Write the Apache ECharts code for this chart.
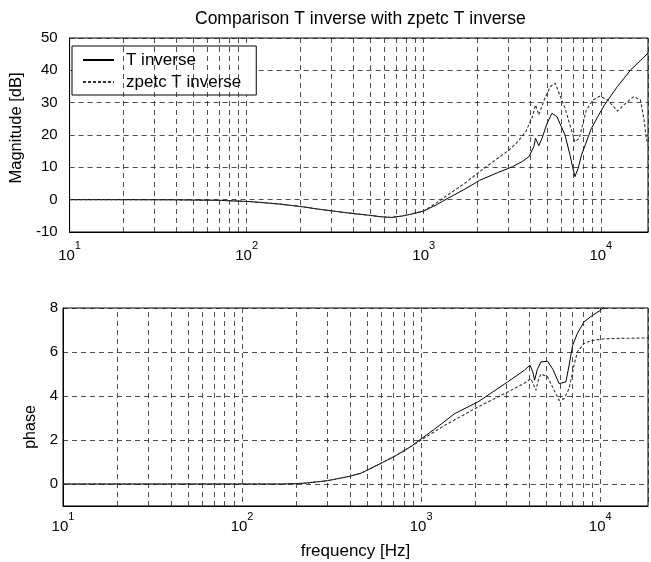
<!DOCTYPE html>
<html>
<head>
<meta charset="utf-8">
<script src="https://cdn.jsdelivr.net/npm/echarts@6/dist/echarts.min.js"></script>
<style>
  html, body { margin: 0; padding: 0; background: #fff; }
  #chart { width: 651px; height: 562px; }
</style>
</head>
<body>
<div id="chart"></div>
<script>
// Frequency response of the inverse closed loop and its ZPETC approximation.

// Magnitude [dB] of T inverse
const magTFreq = [10, 20, 40, 70, 105, 150, 207, 260, 316, 400, 488, 577, 656, 750, 847, 1000,
  1180, 1355, 1700, 2073, 2600, 3177, 3600, 3929, 4188, 4280, 4467, 4660, 4970, 5297, 5650,
  6283, 6700, 7140, 7450, 7780, 8840, 9620, 10490, 12420, 14730, 18490];
const magT = [0, 0, -0.05, -0.2, -0.6, -1.3, -2.2, -3.0, -3.6, -4.3, -4.8, -5.3, -5.5, -5.1, -4.5, -3.5,
  -1.6, 0.3, 3.2, 6.0, 8.3, 10.2, 11.8, 13.3, 16.4, 19.0, 16.7, 19.0, 23.6, 26.7, 25.7,
  20.0, 13.8, 7.1, 9.7, 13.8, 22.0, 25.7, 29.3, 35.0, 40.1, 45.3];

// Magnitude [dB] of zpetc T inverse
const magZFreq = [10, 20, 40, 70, 105, 150, 207, 260, 316, 400, 488, 577, 656, 750, 847, 1000,
  1180, 1413, 1700, 2073, 2500, 3042, 3400, 3767, 4100, 4280, 4467, 4800, 5190, 5530, 5900,
  6283, 6700, 7140, 7560, 8280, 9030, 9840, 10940, 12420, 13800, 15380, 16750, 17490, 18090, 18490];
const magZ = [0, 0, -0.05, -0.2, -0.6, -1.3, -2.2, -3.0, -3.6, -4.3, -4.8, -5.3, -5.5, -5.1, -4.5, -3.5,
  -1.0, 2.0, 5.0, 8.7, 12.0, 15.4, 18.0, 21.0, 25.5, 29.3, 26.2, 31.0, 35.0, 36.0, 32.0,
  28.3, 23.1, 17.9, 19.0, 27.7, 30.8, 32.0, 30.8, 27.4, 29.8, 31.9, 30.8, 25.2, 19.0, 17.0];

// Phase of T inverse
const phaseTFreq = [10, 100, 170, 220, 300, 400, 464, 600, 726, 883, 1000,
  1190, 1540, 2073, 3042, 3767, 4055, 4200, 4300, 4450, 4660, 5080, 5450, 5890, 6430,
  6700, 7010, 7450, 8110, 9000, 10040, 11000, 12000];
const phaseT = [0, 0, 0, 0.03, 0.15, 0.35, 0.5, 0.95, 1.3, 1.72, 2.05,
  2.5, 3.2, 3.73, 4.64, 5.17, 5.4, 5.1, 4.72, 5.2, 5.55, 5.58, 5.2, 4.56, 4.64,
  5.4, 6.3, 6.84, 7.37, 7.65, 7.9, 8.2, 8.5];

// Phase of zpetc T inverse
const phaseZFreq = [10, 100, 170, 220, 300, 400, 464, 600, 726, 883, 1000,
  1355, 2073, 3177, 3800, 4100, 4250, 4380, 4500, 4660, 5080, 5500, 5890, 6283,
  6700, 7140, 7450, 8110, 9000, 10490, 13000, 18490];
const phaseZ = [0, 0, 0, 0.03, 0.15, 0.35, 0.5, 0.95, 1.3, 1.72, 2.0,
  2.67, 3.5, 4.26, 4.6, 4.79, 4.5, 4.26, 4.7, 5.0, 4.87, 4.3, 3.8, 3.88,
  4.34, 5.4, 6.0, 6.39, 6.52, 6.6, 6.62, 6.64];

// Intermediate (non-decade) frequencies that carry a vertical grid line
const minorGridFreqs = [20, 30, 40, 50, 60, 70, 80, 90,
  200, 300, 400, 500, 600, 700, 800, 900,
  2000, 3000, 4000, 5000, 6000, 7000, 8000, 9000];

const FONT = '"Liberation Sans", Arial, Helvetica, sans-serif';
const GRID_COLOR = '#222';
const pairs = (f, v) => f.map((x, i) => [x, v[i]]);

// "10" with the exponent raised as a superscript, only at whole decades
const decadeLabel = v => {
  const e = Math.round(Math.log10(v));
  if (Math.abs(Math.log10(v) - e) > 1e-6) return '';
  return '{b|10}{s|' + e + '}{h|}';
};

const richExp = {
  b: { fontSize: 15, lineHeight: 15, verticalAlign: 'bottom', color: '#000', fontFamily: FONT },
  s: { fontSize: 11, lineHeight: 11, verticalAlign: 'top', color: '#000', fontFamily: FONT },
  h: { fontSize: 1, lineHeight: 23, width: 0 }
};

const gridMarks = {
  silent: true,
  symbol: 'none',
  animation: false,
  label: { show: false },
  lineStyle: { color: GRID_COLOR, type: [5, 4], width: 0.8 },
  data: minorGridFreqs.map(f => ({ xAxis: f }))
};

const xAxisBase = (gridIndex, margin) => ({
  type: 'log',
  logBase: 10,
  gridIndex,
  min: 10,
  max: 18478,
  axisLine: { show: true, onZero: false, lineStyle: { color: '#000', width: 1 } },
  axisTick: { show: false },
  axisLabel: { formatter: decadeLabel, rich: richExp, margin, color: '#000' },
  splitLine: { show: true, lineStyle: { color: GRID_COLOR, type: [5, 4], width: 0.8 } }
});

const chart = echarts.init(document.getElementById('chart'), null, { renderer: 'canvas' });

chart.setOption({
  animation: false,
  backgroundColor: '#fff',
  textStyle: { fontFamily: FONT, color: '#000' },
  title: {
    text: 'Comparison T inverse with zpetc T inverse',
    left: 195,
    top: 10,
    padding: 0,
    textStyle: { fontSize: 17.5, fontWeight: 'normal', color: '#000', fontFamily: FONT }
  },
  legend: {
    data: ['T inverse', 'zpetc T inverse'],
    orient: 'vertical',
    left: 72,
    top: 46,
    padding: [4, 15, 3, 10],
    itemGap: 2,
    itemWidth: 31,
    itemHeight: 14,
    backgroundColor: '#fff',
    borderColor: '#000',
    borderWidth: 1,
    borderRadius: 0,
    itemStyle: { opacity: 0 },
    textStyle: { fontSize: 17, lineHeight: 20, color: '#000', fontFamily: FONT, padding: [0, 0, 0, 7] }
  },
  grid: [
    { left: 63, top: 38, right: 0, height: 194, show: true, borderColor: '#000', borderWidth: 1, backgroundColor: '#fff' },
    { left: 63, top: 308, right: 0, height: 198, show: true, borderColor: '#000', borderWidth: 1, backgroundColor: '#fff' }
  ],
  xAxis: [
    xAxisBase(0, 8),
    Object.assign(xAxisBase(1, 5), {
      name: 'frequency [Hz]',
      nameLocation: 'middle',
      nameGap: 37,
      nameTextStyle: { fontSize: 17, color: '#000', fontFamily: FONT }
    })
  ],
  yAxis: [
    {
      type: 'value',
      gridIndex: 0,
      min: -10,
      max: 50,
      interval: 10,
      name: 'Magnitude [dB]',
      nameLocation: 'middle',
      nameGap: 27,
      nameTextStyle: { fontSize: 16.5, color: '#000', fontFamily: FONT, padding: [0, 0, 0, 14] },
      axisLine: { show: true, lineStyle: { color: '#000', width: 1 } },
      axisTick: { show: false },
      axisLabel: { fontSize: 15, color: '#000', margin: 12 },
      splitLine: { show: true, lineStyle: { color: GRID_COLOR, type: [5, 4], width: 0.8 } }
    },
    {
      type: 'value',
      gridIndex: 1,
      min: -1,
      max: 8,
      interval: 1,
      name: 'phase',
      nameLocation: 'middle',
      nameGap: 10,
      nameTextStyle: { fontSize: 16, color: '#000', fontFamily: FONT, padding: [0, 40, 0, 0] },
      axisLine: { show: true, lineStyle: { color: '#000', width: 1 } },
      axisTick: { show: false },
      axisLabel: { fontSize: 15, color: '#000', margin: 5, formatter: v => (v % 2 === 0 ? String(v) : '') },
      splitLine: { show: true, lineStyle: { color: ['rgba(0,0,0,0)', GRID_COLOR], type: [5, 4], width: 0.8 } }
    }
  ],
  series: [
    {
      name: 'T inverse',
      type: 'line',
      xAxisIndex: 0, yAxisIndex: 0,
      data: pairs(magTFreq, magT),
      showSymbol: false, symbol: 'none',
      lineStyle: { color: '#000', width: 1 },
      itemStyle: { color: '#000' },
      markLine: gridMarks,
      z: 3
    },
    {
      name: 'zpetc T inverse',
      type: 'line',
      xAxisIndex: 0, yAxisIndex: 0,
      data: pairs(magZFreq, magZ),
      showSymbol: false, symbol: 'none',
      lineStyle: { color: '#333', width: 1.1, type: [3, 2] },
      itemStyle: { color: '#333' },
      z: 3
    },
    {
      name: 'T inverse',
      type: 'line',
      xAxisIndex: 1, yAxisIndex: 1,
      data: pairs(phaseTFreq, phaseT),
      showSymbol: false, symbol: 'none',
      lineStyle: { color: '#000', width: 1 },
      itemStyle: { color: '#000' },
      markLine: gridMarks,
      z: 3
    },
    {
      name: 'zpetc T inverse',
      type: 'line',
      xAxisIndex: 1, yAxisIndex: 1,
      data: pairs(phaseZFreq, phaseZ),
      showSymbol: false, symbol: 'none',
      lineStyle: { color: '#333', width: 1.1, type: [3, 2] },
      itemStyle: { color: '#333' },
      z: 3
    }
  ]
});
</script>
</body>
</html>
